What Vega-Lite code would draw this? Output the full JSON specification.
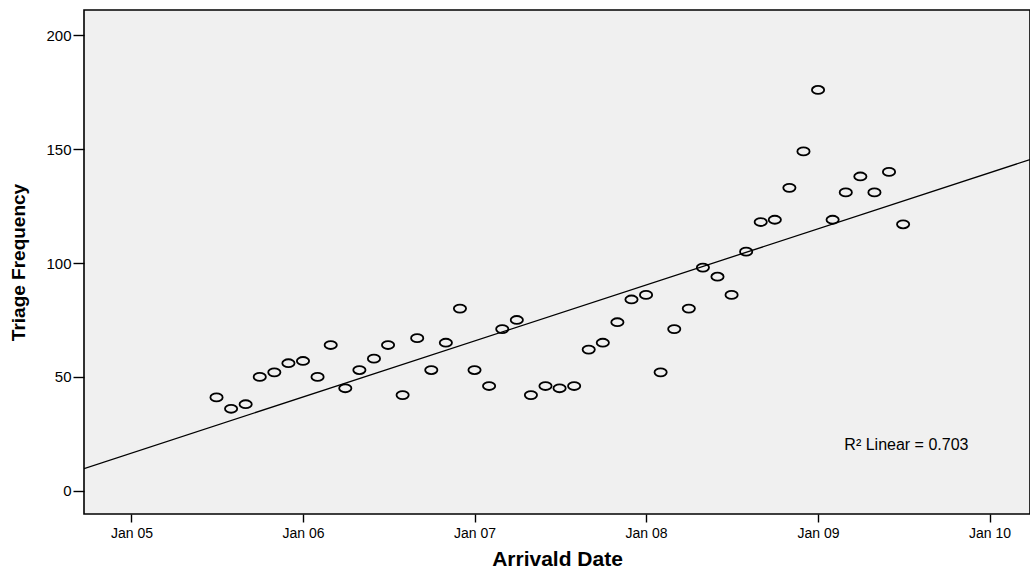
{
  "$schema": "https://vega.github.io/schema/vega-lite/v6.json",
  "width": 946,
  "height": 504,
  "autosize": {"type": "none"},
  "padding": {"left": 84, "top": 10, "right": 0, "bottom": 55},
  "background": "#FFFFFF",
  "config": {
    "view": {"fill": "#F0F0F0", "stroke": "#000000", "strokeWidth": 1.6},
    "axis": {"grid": false, "domain": false, "tickColor": "#000000", "tickWidth": 1.4, "labelColor": "#000000", "titleColor": "#000000"}
  },
  "datasets": {
    "triage": [
      {"date": "2005-07-01T00:00:00", "count": 41},
      {"date": "2005-08-01T00:00:00", "count": 36},
      {"date": "2005-09-01T00:00:00", "count": 38},
      {"date": "2005-10-01T00:00:00", "count": 50},
      {"date": "2005-11-01T00:00:00", "count": 52},
      {"date": "2005-12-01T00:00:00", "count": 56},
      {"date": "2006-01-01T00:00:00", "count": 57},
      {"date": "2006-02-01T00:00:00", "count": 50},
      {"date": "2006-03-01T00:00:00", "count": 64},
      {"date": "2006-04-01T00:00:00", "count": 45},
      {"date": "2006-05-01T00:00:00", "count": 53},
      {"date": "2006-06-01T00:00:00", "count": 58},
      {"date": "2006-07-01T00:00:00", "count": 64},
      {"date": "2006-08-01T00:00:00", "count": 42},
      {"date": "2006-09-01T00:00:00", "count": 67},
      {"date": "2006-10-01T00:00:00", "count": 53},
      {"date": "2006-11-01T00:00:00", "count": 65},
      {"date": "2006-12-01T00:00:00", "count": 80},
      {"date": "2007-01-01T00:00:00", "count": 53},
      {"date": "2007-02-01T00:00:00", "count": 46},
      {"date": "2007-03-01T00:00:00", "count": 71},
      {"date": "2007-04-01T00:00:00", "count": 75},
      {"date": "2007-05-01T00:00:00", "count": 42},
      {"date": "2007-06-01T00:00:00", "count": 46},
      {"date": "2007-07-01T00:00:00", "count": 45},
      {"date": "2007-08-01T00:00:00", "count": 46},
      {"date": "2007-09-01T00:00:00", "count": 62},
      {"date": "2007-10-01T00:00:00", "count": 65},
      {"date": "2007-11-01T00:00:00", "count": 74},
      {"date": "2007-12-01T00:00:00", "count": 84},
      {"date": "2008-01-01T00:00:00", "count": 86},
      {"date": "2008-02-01T00:00:00", "count": 52},
      {"date": "2008-03-01T00:00:00", "count": 71},
      {"date": "2008-04-01T00:00:00", "count": 80},
      {"date": "2008-05-01T00:00:00", "count": 98},
      {"date": "2008-06-01T00:00:00", "count": 94},
      {"date": "2008-07-01T00:00:00", "count": 86},
      {"date": "2008-08-01T00:00:00", "count": 105},
      {"date": "2008-09-01T00:00:00", "count": 118},
      {"date": "2008-10-01T00:00:00", "count": 119},
      {"date": "2008-11-01T00:00:00", "count": 133},
      {"date": "2008-12-01T00:00:00", "count": 149},
      {"date": "2009-01-01T00:00:00", "count": 176},
      {"date": "2009-02-01T00:00:00", "count": 119},
      {"date": "2009-03-01T00:00:00", "count": 131},
      {"date": "2009-04-01T00:00:00", "count": 138},
      {"date": "2009-05-01T00:00:00", "count": 131},
      {"date": "2009-06-01T00:00:00", "count": 140},
      {"date": "2009-07-01T00:00:00", "count": 117}
    ],
    "note": [
      {"date": "2009-02-26T00:00:00", "count": 20, "label": "R² Linear = 0.703"}
    ]
  },
  "encoding": {
    "x": {
      "field": "date",
      "type": "temporal",
      "scale": {"domain": [{"year": 2004, "month": 9, "date": 22}, {"year": 2010, "month": 3, "date": 28}], "nice": false},
      "axis": {
        "title": "Arrivald Date",
        "values": [
          {"year": 2005, "month": 1, "date": 1},
          {"year": 2006, "month": 1, "date": 1},
          {"year": 2007, "month": 1, "date": 1},
          {"year": 2008, "month": 1, "date": 1},
          {"year": 2009, "month": 1, "date": 1},
          {"year": 2010, "month": 1, "date": 1}
        ],
        "format": "%b %y",
        "tickSize": 8,
        "labelPadding": 4,
        "labelFont": "Liberation Sans",
        "labelFontSize": 14,
        "titleFont": "Liberation Sans",
        "titleFontSize": 21,
        "titleFontWeight": "bold",
        "titlePadding": 8
      }
    },
    "y": {
      "field": "count",
      "type": "quantitative",
      "scale": {"domain": [-10.2, 211.1], "nice": false, "zero": false},
      "axis": {
        "title": "Triage Frequency",
        "values": [0, 50, 100, 150, 200],
        "tickSize": 11,
        "labelPadding": 2,
        "labelFont": "Liberation Sans",
        "labelFontSize": 15,
        "titleFont": "Liberation Sans",
        "titleFontSize": 19,
        "titleFontWeight": "bold",
        "titlePadding": 17
      }
    }
  },
  "layer": [
    {
      "data": {"name": "triage"},
      "transform": [
        {"regression": "count", "on": "date", "method": "linear", "extent": [1095811200000, 1269734400000]}
      ],
      "mark": {"type": "line", "color": "#000000", "strokeWidth": 1.3, "clip": true}
    },
    {
      "data": {"name": "triage"},
      "mark": {
        "type": "point",
        "shape": "M-1,0A1,0.65,0,1,1,1,0A1,0.65,0,1,1,-1,0Z",
        "size": 150,
        "filled": false,
        "stroke": "#000000",
        "strokeWidth": 1.8,
        "opacity": 1
      }
    },
    {
      "data": {"name": "note"},
      "mark": {"type": "text", "align": "left", "baseline": "middle", "font": "Liberation Sans", "fontSize": 16, "color": "#000000"},
      "encoding": {"text": {"field": "label"}}
    }
  ]
}
